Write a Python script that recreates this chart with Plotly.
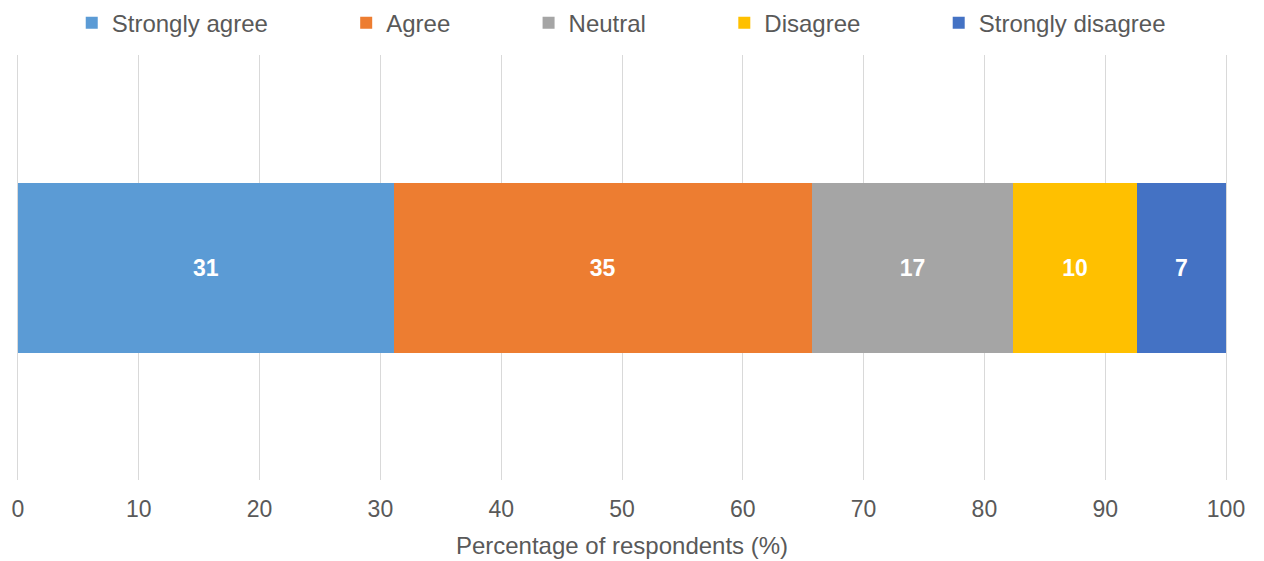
import plotly.graph_objects as go

# survey responses, share of respondents (%)
categories = ["Strongly agree", "Agree", "Neutral", "Disagree", "Strongly disagree"]
values = [31.1, 34.6, 16.7, 10.2, 7.4]
colors = ["#5B9BD5", "#ED7D31", "#A5A5A5", "#FFC000", "#4472C4"]
x_ticks = [0, 10, 20, 30, 40, 50, 60, 70, 80, 90, 100]

FONT = "Liberation Sans"
pad = "\u00a0" * 11  # spreads the legend entries out like the original

fig = go.Figure()
for name, val, col in zip(categories, values, colors):
    fig.add_trace(go.Bar(
        y=[""],
        x=[val],
        name=name + pad,
        orientation="h",
        marker=dict(color=col, line=dict(width=0)),
        text=[val],
        texttemplate="%{x:.0f}",
        textposition="inside",
        insidetextanchor="middle",
        textfont=dict(color="white", size=23, family=FONT, weight="bold"),
    ))

fig.update_layout(
    barmode="stack",
    bargap=0.6,
    width=1264,
    height=561,
    plot_bgcolor="white",
    paper_bgcolor="white",
    margin=dict(l=10, r=46, t=47, b=89, autoexpand=False),
    font=dict(family=FONT, size=23, color="#595959"),
    showlegend=True,
    legend=dict(
        orientation="h",
        x=0.53, xanchor="center",
        y=1.128, yanchor="top",
        font=dict(size=24, color="#595959"),
        itemwidth=30,
        traceorder="normal",
    ),
    xaxis=dict(
        range=[0, 100],
        tickvals=x_ticks,
        showgrid=True,
        gridcolor="#D9D9D9",
        gridwidth=1,
        zeroline=False,
        showline=False,
        ticks="",
        ticklabelstandoff=13,
        automargin=False,
        title=dict(text="Percentage of respondents (%)", standoff=16, font=dict(size=24)),
    ),
    yaxis=dict(
        showticklabels=False, showgrid=False, zeroline=False, automargin=False,
        showline=True, linecolor="#D9D9D9", linewidth=1, mirror=True,
    ),
)

fig.write_html("out.html")
